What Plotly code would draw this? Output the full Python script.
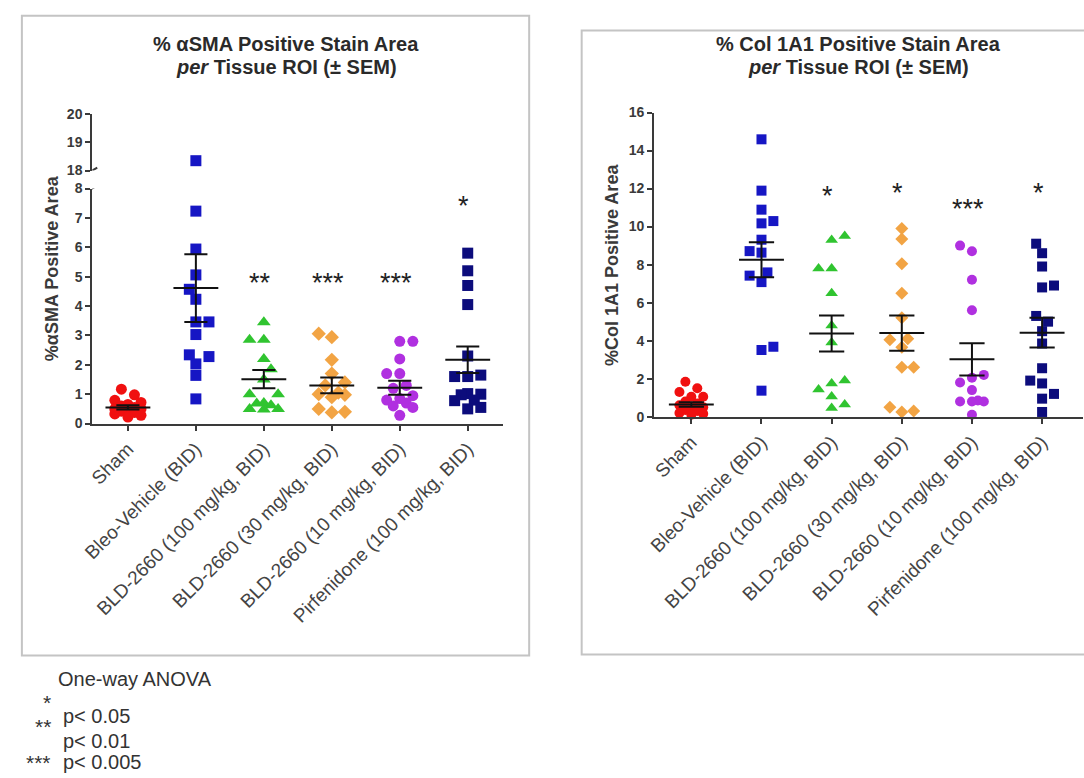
import plotly.graph_objects as go

# ---------------- data ----------------
categories = ["Sham", "Bleo-Vehicle (BID)", "BLD-2660 (100 mg/kg, BID)",
              "BLD-2660 (30 mg/kg, BID)", "BLD-2660 (10 mg/kg, BID)",
              "Pirfenidone (100 mg/kg, BID)"]

sma_sham = [1.17, 0.98, 0.79, 0.72, 0.65, 0.60, 0.55, 0.50, 0.47, 0.42, 0.38, 0.33, 0.28, 0.22, 0.50]
sma_bleo = [18.35, 7.23, 5.94, 5.06, 4.57, 4.23, 3.46, 3.46, 3.03, 2.34, 2.28, 2.03, 1.64, 0.84]
sma_bld100 = [3.45, 2.85, 2.85, 2.20, 1.85, 1.50, 1.00, 1.00, 0.70, 0.68, 0.62, 0.50, 0.50, 0.48]
sma_bld30 = [3.06, 2.94, 2.17, 1.70, 1.40, 1.30, 1.05, 1.00, 0.98, 0.90, 0.50, 0.40, 0.38]
sma_bld10 = [2.80, 2.80, 2.20, 1.70, 1.70, 1.30, 1.20, 0.95, 0.85, 0.80, 0.70, 0.60, 0.55, 0.28]
sma_pirf = [5.80, 5.20, 4.70, 4.05, 2.30, 1.65, 1.60, 1.60, 1.02, 1.00, 0.98, 0.80, 0.78, 0.55, 0.50]
sma_mean = [0.55, 4.61, 1.51, 1.30, 1.22, 2.17]
sma_sem = [0.07, 1.15, 0.31, 0.27, 0.24, 0.45]
sma_sig = ["", "", "**", "***", "***", "*"]
sma_sig_y = [0, 0, 4.91, 4.91, 4.91, 7.54]

col_sham = [1.84, 1.50, 1.30, 1.05, 1.05, 0.80, 0.70, 0.60, 0.50, 0.45, 0.35, 0.30, 0.20, 0.15, 0.10]
col_bleo = [14.59, 11.89, 10.89, 10.29, 10.17, 9.31, 8.71, 8.63, 7.59, 7.42, 7.08, 3.68, 3.51, 1.37]
col_bld100 = [9.50, 9.30, 7.80, 7.80, 6.50, 4.80, 3.90, 1.90, 1.75, 1.43, 1.07, 0.64, 0.46]
col_bld30 = [9.90, 9.35, 8.05, 6.50, 5.20, 4.10, 4.05, 3.65, 2.60, 2.60, 0.50, 0.30, 0.25]
col_bld10 = [9.00, 8.70, 7.20, 5.60, 2.20, 2.05, 1.80, 1.40, 0.85, 0.80, 0.80, 0.80, 0.10]
col_pirf = [9.10, 8.60, 7.90, 6.90, 6.80, 5.30, 5.00, 4.50, 3.85, 2.55, 1.90, 1.75, 1.20, 0.95, 0.25]
col_mean = [0.64, 8.25, 4.38, 4.40, 3.02, 4.42]
col_sem = [0.12, 0.92, 0.95, 0.93, 0.85, 0.78]
col_sig = ["", "", "*", "*", "***", "*"]
col_sig_y = [0, 0, 11.8, 12.0, 11.15, 12.0]

sma_groups = [sma_sham, sma_bleo, sma_bld100, sma_bld30, sma_bld10, sma_pirf]
col_groups = [col_sham, col_bleo, col_bld100, col_bld30, col_bld10, col_pirf]

# ---------------- styles ----------------
W, H = 1084, 778
FONT = "Liberation Sans, Arial, sans-serif"
colors = ["#f01010", "#1616c4", "#30c430", "#f2a444", "#b030e0", "#0c0c7c"]
symbols = ["circle", "square", "triangle-up", "diamond", "circle", "square"]
sizes_l = [11, 11, 12, 11, 11, 11]
sizes_r = [10, 10, 11, 10, 10, 10]
AX = "#3a3a3a"


def px(x):
    return x / W


def py(y):
    return 1 - y / H


def swarm(vals, ppy, ppx, d, maxoff):
    """simple column-scatter layout: offsets (in axis units) for each value"""
    step = d * 0.6
    kmax = int(maxoff / step)
    n = len(vals)
    offs = [0.0] * n
    pts = []
    order = sorted(range(n), key=lambda i: vals[i])
    flip = 1
    for i in order:
        y = vals[i] * ppy
        cands = [0.0]
        for k in range(1, kmax + 1):
            cands += [flip * k * step, -flip * k * step]
        chosen, best, best_score = None, 0.0, -1.0
        for x in cands:
            md = min([((x - a) ** 2 + (y - b) ** 2) ** 0.5 for a, b in pts] or [1e9])
            if md >= d:
                chosen = x
                break
            if md > best_score:
                best_score, best = md, x
        if chosen is None:
            chosen = best
        if chosen != 0:
            flip = -flip
        pts.append((chosen, y))
        offs[i] = chosen / ppx
    return offs


# pixel geometry of the two plot areas
L_X0, L_X1 = 83, 498
L_XR = [-0.525, 5.525]
L_Y0, L_Y8 = 424.3, 184.3
L_Y18, L_Y20 = 166.0, 108.3
R_X0, R_X1 = 650, 1083
R_XR = [-0.532, 5.583]
R_Y0, R_Y16 = 417.3, 106.7

l_ppx = (L_X1 - L_X0) / (L_XR[1] - L_XR[0])
l_ppy = (L_Y0 - L_Y8) / 8
r_ppx = (R_X1 - R_X0) / (R_XR[1] - R_XR[0])
r_ppy = (R_Y0 - R_Y16) / 16

fig = go.Figure()

BREAK = 8

# left panel markers
for i, vals in enumerate(sma_groups):
    low = [v for v in vals if v <= BREAK]
    high = [v for v in vals if v > BREAK]
    offs = swarm(low, l_ppy, l_ppx, sizes_l[i], 16)
    fig.add_trace(go.Scatter(
        x=[i + o for o in offs], y=low, mode="markers", xaxis="x", yaxis="y",
        marker=dict(symbol=symbols[i], size=sizes_l[i], color=colors[i], line=dict(width=0)),
        cliponaxis=False, showlegend=False, hoverinfo="y"))
    if high:
        fig.add_trace(go.Scatter(
            x=[i] * len(high), y=high, mode="markers", xaxis="x", yaxis="y3",
            marker=dict(symbol=symbols[i], size=sizes_l[i], color=colors[i], line=dict(width=0)),
            cliponaxis=False, showlegend=False, hoverinfo="y"))

# right panel markers
for i, vals in enumerate(col_groups):
    offs = swarm(vals, r_ppy, r_ppx, sizes_r[i], 17)
    fig.add_trace(go.Scatter(
        x=[i + o for o in offs], y=vals, mode="markers", xaxis="x2", yaxis="y2",
        marker=dict(symbol=symbols[i], size=sizes_r[i], color=colors[i], line=dict(width=0)),
        cliponaxis=False, showlegend=False, hoverinfo="y"))


def err_lines(means, sems, half_mean, half_cap):
    xs, ys = [], []
    for i, (m, s) in enumerate(zip(means, sems)):
        xs += [i - half_mean, i + half_mean, None, i, i, None,
               i - half_cap, i + half_cap, None, i - half_cap, i + half_cap, None]
        ys += [m, m, None, m - s, m + s, None, m + s, m + s, None, m - s, m - s, None]
    return xs, ys


xs, ys = err_lines(sma_mean, sma_sem, 0.33, 0.17)
fig.add_trace(go.Scatter(x=xs, y=ys, mode="lines", xaxis="x", yaxis="y",
                         line=dict(color="#111111", width=2), cliponaxis=False,
                         showlegend=False, hoverinfo="skip"))
xs, ys = err_lines(col_mean, col_sem, 0.32, 0.18)
fig.add_trace(go.Scatter(x=xs, y=ys, mode="lines", xaxis="x2", yaxis="y2",
                         line=dict(color="#111111", width=2), cliponaxis=False,
                         showlegend=False, hoverinfo="skip"))

tickfont_b = dict(family=FONT, size=14, color=AX, weight="bold")
catfont = dict(family=FONT, size=19, color="#444444")
axis_common = dict(showline=True, linecolor=AX, linewidth=2, ticks="outside",
                   ticklen=5, tickwidth=2, tickcolor=AX, showgrid=False,
                   zeroline=False, fixedrange=True)

fig.update_layout(
    width=W, height=H, autosize=False,
    margin=dict(l=0, r=0, t=0, b=0),
    paper_bgcolor="white", plot_bgcolor="white",
    showlegend=False,
    xaxis=dict(domain=[px(L_X0), px(L_X1)], range=L_XR, anchor="y",
               tickvals=list(range(6)), ticktext=categories, tickangle=-45,
               tickfont=catfont, **axis_common),
    yaxis=dict(domain=[py(L_Y0), py(L_Y8)], range=[0, 8], anchor="x",
               tickvals=list(range(0, 9)), tickfont=tickfont_b, **axis_common),
    yaxis3=dict(domain=[py(L_Y18), py(L_Y20)], range=[18, 20], anchor="x",
                tickvals=[18, 19, 20], tickfont=tickfont_b, **axis_common),
    xaxis2=dict(domain=[px(R_X0), px(R_X1)], range=R_XR, anchor="y2",
                tickvals=list(range(6)), ticktext=categories, tickangle=-45,
                tickfont=catfont, **axis_common),
    yaxis2=dict(domain=[py(R_Y0), py(R_Y16)], range=[0, 16], anchor="x2",
                tickvals=list(range(0, 17, 2)), tickfont=tickfont_b, **axis_common),
)

shapes = []
# panel frames
shapes.append(dict(type="rect", xref="paper", yref="paper", x0=px(12), x1=px(524),
                   y0=py(661), y1=py(8), line=dict(color="#c4c4c4", width=2)))
shapes.append(dict(type="rect", xref="paper", yref="paper", x0=px(577), x1=px(1100),
                   y0=py(660), y1=py(23), line=dict(color="#c4c4c4", width=2)))
# axis break marks
for yref, yanchor in (("y", 8), ("y3", 18)):
    shapes.append(dict(type="line", xref="x", yref=yref, xsizemode="pixel",
                       ysizemode="pixel", xanchor=L_XR[0], yanchor=yanchor,
                       x0=-5, x1=5, y0=-3, y1=3, line=dict(color=AX, width=2)))
fig.update_layout(shapes=shapes)

ann = []
title_font = dict(family=FONT, size=20, color="#2a2a2a", weight="bold")
for cx, line1 in ((279, "% \u03b1SMA Positive Stain Area"),
                  (856, "% Col 1A1 Positive Stain Area")):
    ann.append(dict(text=line1, x=px(cx), y=py(37), xref="paper", yref="paper",
                    showarrow=False, xanchor="center", yanchor="middle", font=title_font))
    ann.append(dict(text="<i>per</i> Tissue ROI (\u00b1 SEM)", x=px(cx), y=py(60),
                    xref="paper", yref="paper", showarrow=False, xanchor="center",
                    yanchor="middle", font=title_font))

ylab_font = dict(family=FONT, size=18, color=AX, weight="bold")
ann.append(dict(text="%\u03b1SMA Positive Area", x=px(42), y=py(266), xref="paper",
                yref="paper", showarrow=False, textangle=-90, font=ylab_font,
                xanchor="center", yanchor="middle"))
ann.append(dict(text="%Col 1A1 Positive Area", x=px(607), y=py(262), xref="paper",
                yref="paper", showarrow=False, textangle=-90, font=ylab_font,
                xanchor="center", yanchor="middle"))

sig_font = dict(family=FONT, size=27, color="#222222")
for i, (s, y) in enumerate(zip(sma_sig, sma_sig_y)):
    if s:
        ann.append(dict(text=s, x=i, y=y, xref="x", yref="y", showarrow=False,
                        xshift=-4, yshift=-4, font=sig_font))
for i, (s, y) in enumerate(zip(col_sig, col_sig_y)):
    if s:
        ann.append(dict(text=s, x=i, y=y, xref="x2", yref="y2", showarrow=False,
                        xshift=-4, yshift=-4, font=sig_font))

leg_font = dict(family=FONT, size=20, color="#333333")
star_font = dict(family=FONT, size=21, color="#333333")
ann.append(dict(text="One-way ANOVA", x=px(46), y=py(685), xref="paper", yref="paper",
                showarrow=False, xanchor="left", yanchor="middle", font=leg_font))
for stars, sy, label, ly in (("*", 709, "p< 0.05", 723), ("**", 734, "p< 0.01", 748),
                             ("***", 770, "p< 0.005", 770)):
    ann.append(dict(text=stars, x=px(42), y=py(sy), xref="paper", yref="paper",
                    showarrow=False, xanchor="right", yanchor="middle", font=star_font,
                    borderpad=0))
    ann.append(dict(text=label, x=px(52), y=py(ly), xref="paper", yref="paper",
                    showarrow=False, xanchor="left", yanchor="middle", font=leg_font,
                    borderpad=0))
fig.update_layout(annotations=ann)

fig.write_html("out.html", config={"displayModeBar": False},
               post_script="document.body.style.margin='0';")
